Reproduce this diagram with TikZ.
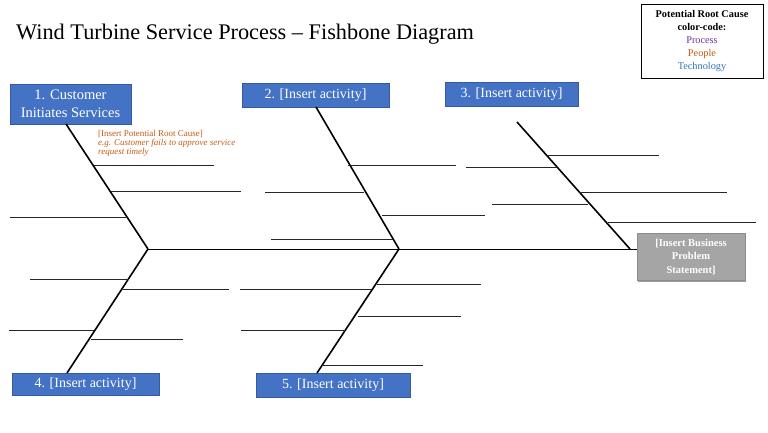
\documentclass[tikz,border=0pt]{standalone}
\usepackage{fontspec}
\setmainfont{Liberation Serif}
\usetikzlibrary{shadows}
\definecolor{boxblue}{HTML}{4472C4}
\definecolor{probgray}{HTML}{A5A5A5}
\definecolor{cprocess}{HTML}{7030A0}
\definecolor{cpeople}{HTML}{C55A11}
\definecolor{ctech}{HTML}{2E75B6}
\begin{document}
\begin{tikzpicture}[x=1pt,y=-1pt,
  catbox/.style={fill=boxblue, draw=boxblue!80!black, line width=0.6pt, text=white,
    font=\fontsize{14}{16}\selectfont, inner sep=0pt, align=center},
  probbox/.style={fill=probgray, draw=black!45, line width=0.8pt, text=white,
    font=\bfseries\fontsize{10.5}{13.5}\selectfont, inner sep=0pt, align=center,
    drop shadow={shadow xshift=1.2pt, shadow yshift=-1.2pt, fill=black!55, opacity=0.7}},
  bone/.style={line width=1.6pt, black},
  subbone/.style={line width=0.9pt, black!85},
]
\useasboundingbox (0,0) rectangle (768,433);

% title
\node[anchor=base west, font=\fontsize{22.3}{26}\selectfont, inner sep=0pt] (title) at (16,40)
  {Wind Turbine Service Process -- Fishbone Diagram};

% legend
\node[draw, line width=0.8pt, minimum width=122, minimum height=74, inner sep=0pt,
  align=center, font=\fontsize{10.3}{13.2}\selectfont] (legend) at (702,41)
  {\textbf{Potential Root Cause}\\ \textbf{color-code:}\\
   \textcolor{cprocess}{Process}\\ \textcolor{cpeople}{People}\\ \textcolor{ctech}{Technology}};

% category boxes
\node[catbox, minimum width=121, minimum height=40, font=\fontsize{14.5}{18}\selectfont] (b1) at (70.5,104) {1. Customer\\Initiates Services};
\node[catbox, minimum width=147, minimum height=24] (b2) at (315.5,95) {2. [Insert activity]};
\node[catbox, minimum width=133, minimum height=24] (b3) at (511.5,94) {3. [Insert activity]};
\node[catbox, minimum width=147, minimum height=22] (b4) at (85.5,384) {4. [Insert activity]};
\node[catbox, minimum width=154, minimum height=24] (b5) at (333,385) {5. [Insert activity]};

% problem statement
\node[probbox, minimum width=108, minimum height=47] (pb) at (691,257)
  {[Insert Business\\Problem\\Statement]};

% root cause hint
\node[anchor=north west, inner sep=0pt, align=left, text=cpeople,
  font=\fontsize{9}{8.8}\selectfont] (hint) at (98,130)
  {[Insert Potential Root Cause]\\ \textit{e.g. Customer fails to approve service}\\ \textit{request timely}};

% spine junctions and bone ends
\coordinate (j1) at (148,249);
\coordinate (j2) at (399,249);
\coordinate (j3) at (630,249);
\coordinate (t1) at (66,124);
\coordinate (t2) at (316,107);
\coordinate (t3) at (517,122);
\coordinate (t4) at (67,373);
\coordinate (t5) at (317,373);

% spine
\draw[line width=1pt] (j1) -- (j1 -| pb.west);

% main bones
\draw[bone] (t1) -- (j1);
\draw[bone] (t2) -- (j2);
\draw[bone] (t3) -- (j3);
\draw[bone] (j1) -- (t4);
\draw[bone] (j2) -- (t5);

% sub-bones
\foreach \y/\xa/\xb in {165/94/214, 191/111/241, 217/10/126,
  165/348/456, 192/265/364, 215/382/485, 239/271/393,
  155/547/659, 167/466/557, 192/579/727, 204/492/588, 222/608/756,
  279/30/129, 289/123/229, 330/9/94, 339/91/183,
  289/240/372, 284/377/481, 316/358/461, 330/241/345, 365/322/423}
  \draw[subbone] (\xa,\y) -- (\xb,\y);
\end{tikzpicture}
\end{document}
